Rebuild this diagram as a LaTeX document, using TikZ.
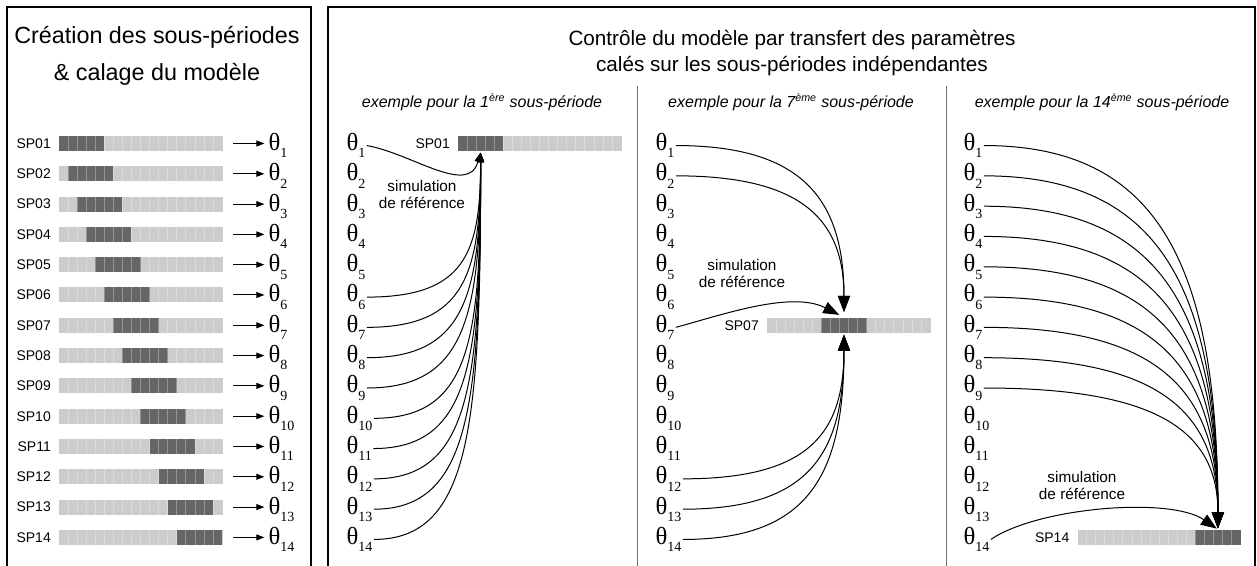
\documentclass[tikz,border=0pt]{standalone}
\usepackage{fontspec}
\setmainfont{Liberation Sans}
\newfontfamily\serifgreek{Liberation Serif}
\usetikzlibrary{arrows.meta,calc,positioning}

\definecolor{barlight}{HTML}{CCCCCC}
\definecolor{bardark}{HTML}{666666}

% theta with its index
\newcommand{\thet}[1]{{\serifgreek\fontsize{18.5}{18.5}\selectfont θ\raisebox{-5.5pt}{\fontsize{10.5}{10.5}\selectfont #1}}}

% bar of 18 cells, 5 dark cells from cell #3, named #4 (dark part #4-d)
\newcommand{\spbar}[4]{%
  \node [lightbar] (#4) at (#1,#2) {};
  \node [darkbar] (#4-d) at ($(#4.west)+({(#3+2.5)*9.06},0)$) {};
  \foreach \c in {1,...,17}
    \draw [cellsep] ($(#4.south west)+({\c*9.06},0)$) -- ($(#4.north west)+({\c*9.06},0)$);
}

\tikzset{every picture/.style={line width=0.75pt}}
\tikzset{
  lightbar/.style={rectangle, fill=barlight, inner sep=0pt, minimum width=122.3pt, minimum height=11.25pt},
  darkbar/.style={rectangle, fill=bardark, inner sep=0pt, minimum width=34pt, minimum height=11.25pt},
  cellsep/.style={draw=white, draw opacity=0.3, line width=0.5pt},
  splabel/.style={inner sep=0.75pt, font=\fontsize{10.5}{12}\selectfont},
  param/.style={anchor=base west, inner sep=0.75pt},
  simtext/.style={align=center, inner sep=0.75pt, font=\fontsize{11.5}{12.75}\selectfont},
  subtitle/.style={inner sep=0.75pt, font=\fontsize{12}{14}\selectfont\itshape},
  boxline/.style={line width=1pt},
  divider/.style={color=black!55},
  calarrow/.style={-{Triangle[length=6pt,width=4.5pt]}, shorten <=7.5pt, shorten >=2pt},
  conn/.style={-{Triangle[length=12pt,width=9pt]}, shorten >=1pt},
  connsmall/.style={-{Triangle[length=7pt,width=5pt]}, shorten >=1pt}
}

\begin{document}
\begin{tikzpicture}[x=0.75pt,y=0.75pt,yscale=-1,xscale=1]
\useasboundingbox (0,0) rectangle (1257,566);

%Shape: Frames
\draw [boxline] (7,566) -- (7,7) -- (311,7) -- (311,566);
\draw [boxline] (328,566) -- (328,7) -- (1255,7) -- (1255,566);
\draw [divider] (637,86) -- (637,566);
\draw [divider] (946,86) -- (946,566);

% Text Node
\node [align=center, inner sep=0.75pt, font=\fontsize{17.5}{27.75}\selectfont] (ttlleft) at (157,56) {Création des sous-périodes\\\& calage du modèle};
% Text Node
\node [align=center, inner sep=0.75pt, font=\fontsize{15.5}{19.5}\selectfont] (ttlright) at (792,53) {Contrôle du modèle par transfert des paramètres\\calés sur les sous-périodes indépendantes};
% Text Node
\node [subtitle] (sub1) at (482,102) {exemple pour la 1\textsuperscript{ère} sous-période};
\node [subtitle] (sub7) at (791,102) {exemple pour la 7\textsuperscript{ème} sous-période};
\node [subtitle] (sub14) at (1102,102) {exemple pour la 14\textsuperscript{ème} sous-période};

% left panel
\foreach \i [evaluate=\i as \y using 143.5+30.3*(\i-1), evaluate=\i as \k using int(\i-1)] in {1,...,14} {
  \spbar{141}{\y}{\k}{bar\i}
  \node [splabel, left=5pt of bar\i] (lab\i) {SP\ifnum\i<10 0\fi\i};
  \node [param] (th\i) at (267,\y+7) {\thet{\i}};
  \draw [calarrow] (bar\i.east) -- (bar\i.east -| th\i.west);
}

% panel 1
\spbar{540}{143.5}{0}{ref1}
\node [splabel, left=5pt of ref1] (labr1) {SP01};
\foreach \i [evaluate=\i as \y using 143.5+30.3*(\i-1)] in {1,...,14}
  \node [param] (pa\i) at (345,\y+7) {\thet{\i}};
\node [simtext] (sima) at (422,195) {simulation\\de référence};
% Connection
\draw [connsmall] (pa1.east) .. controls +(45,8) and +(-12,45) .. (ref1-d.south);
\foreach \i [evaluate=\i as \dy using 0.7*(145.5+30.3*(\i-1)-151)] in {6,...,14}
  \draw [connsmall] (pa\i.east) .. controls +(98,0) and +(0,\dy) .. (ref1-d.south);

% panel 7
\spbar{849}{325.3}{6}{ref7}
\node [splabel, left=5pt of ref7] (labr7) {SP07};
\foreach \i [evaluate=\i as \y using 143.5+30.3*(\i-1)] in {1,...,14}
  \node [param] (pb\i) at (654,\y+7) {\thet{\i}};
\node [simtext] (simb) at (742,274) {simulation\\de référence};
% Connection
\foreach \i [evaluate=\i as \dy using 0.7*(145.5+30.3*(\i-1)-317.8)] in {1,2}
  \draw [conn, shorten >=4pt] (pb\i.east) .. controls +(124,0) and +(0,\dy) .. (ref7-d.north);
\draw [conn, shorten >=4pt] (pb7.east) .. controls +(45,-12) and +(-53,-27) .. (ref7-d.north);
\foreach \i [evaluate=\i as \dy using 0.7*(145.5+30.3*(\i-1)-332.8)] in {12,13,14}
  \draw [conn] (pb\i.east) .. controls +(124,0) and +(0,\dy) .. (ref7-d.south);

% panel 14
\spbar{1159.5}{537.4}{13}{ref14}
\node [splabel, left=5pt of ref14] (labr14) {SP14};
\foreach \i [evaluate=\i as \y using 143.5+30.3*(\i-1)] in {1,...,14}
  \node [param] (pc\i) at (962,\y+7) {\thet{\i}};
\node [simtext] (simc) at (1082,486) {simulation\\de référence};
% Connection
\foreach \i [evaluate=\i as \dy using 0.7*(145.5+30.3*(\i-1)-529.9)] in {1,...,9}
  \draw [conn] (pc\i.east) .. controls +(172,0) and +(0,\dy) .. (ref14-d.north);
\draw [conn] (pc14.east) .. controls +(47,-32) and +(-48,-33) .. (ref14-d.north);

\end{tikzpicture}
\end{document}
